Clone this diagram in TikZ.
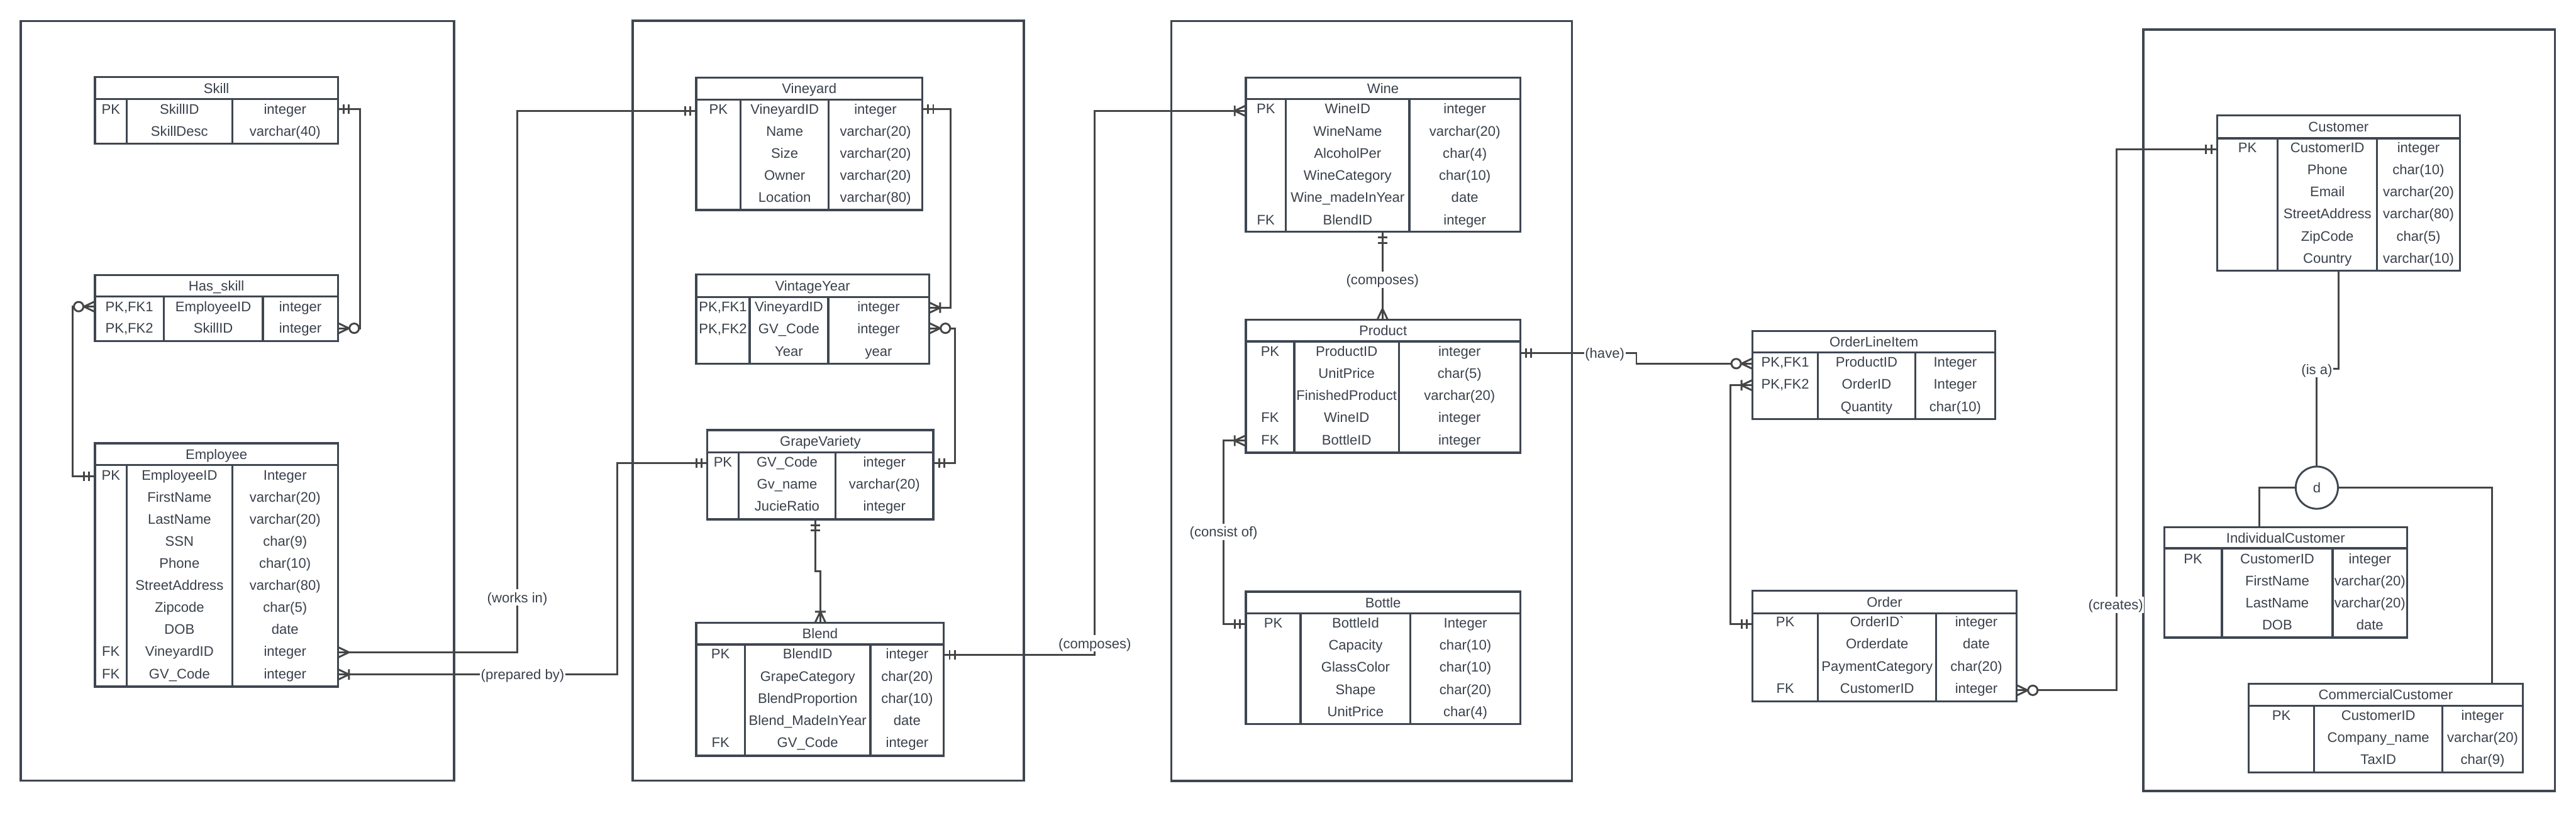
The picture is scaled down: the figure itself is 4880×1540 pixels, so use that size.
\documentclass[tikz,border=0pt]{standalone}
\usepackage{fontspec}
\setmainfont{Liberation Sans}
\definecolor{boxc}{HTML}{3E4651}
\definecolor{connc}{HTML}{454545}
\definecolor{txtc}{HTML}{3A414B}
\tikzset{
  tblbox/.style={draw=boxc, line width=4pt, fill=white, inner sep=0pt, outer sep=0pt},
  tblline/.style={draw=boxc, line width=4pt},
  txt/.style={text=txtc, font=\fontsize{26.3}{30}\selectfont, inner sep=0pt, text height=18.8pt, text depth=0pt},
  conn/.style={draw=connc, line width=3.5pt},
  lbl/.style={fill=white, text=txtc, font=\fontsize{26.3}{30}\selectfont, inner xsep=2pt, inner ysep=6pt, text height=18.8pt, text depth=0pt},
  frm/.style={draw=boxc, line width=4.5pt, inner sep=0pt, outer sep=0pt, anchor=north west},
  erOne/.pic={\draw[conn] (11,-9) -- (11,9) (21,-9) -- (21,9);},
  erMany/.pic={\draw[conn] (0,-10) -- (21,0) -- (0,10);},
  erOneMany/.pic={\draw[conn] (0,-10) -- (21,0) -- (0,10) (21,-10) -- (21,10);},
  erZeroMany/.pic={\draw[conn] (0,-10) -- (21,0) -- (0,10); \draw[conn, fill=white] (31,0) circle[radius=9];},
}
% #1 name, #2 title, #3 left, #4 col1, #5 col2, #6 right, #7 top, #8 header, #9 bottom
\newcommand\ertable[9]{%
  \node[tblbox, minimum width={(#6-#3)*1pt}, minimum height={(#9-#7)*1pt}, anchor=north west] (#1) at (#3,#7) {};
  \draw[tblline] (#3,#8) -- (#6,#8) (#4,#8) -- (#4,#9) (#5,#8) -- (#5,#9);
  \node[txt] (#1-title) at ({(#3+#6)/2},{(#7+#8)/2}) {#2};
}
% #1 name, #2 key x, #3 attr x, #4 type x, #5 first y, #6 spacing, #7 list
\newcommand\errows[7]{%
  \foreach \rowK/\rowA/\rowT [count=\ri from 0] in {#7}{%
    \node[txt] (#1-k\ri) at (#2,{#5+\ri*#6}) {\rowK};
    \node[txt] (#1-a\ri) at (#3,{#5+\ri*#6}) {\rowA};
    \node[txt] (#1-t\ri) at (#4,{#5+\ri*#6}) {\rowT};
  }%
}
\begin{document}
\begin{tikzpicture}[x=1pt, y=-1pt]
\useasboundingbox (0,0) rectangle (4880,1540);
\fill[white] (0,0) rectangle (4880,1540);

% frames
\node[frm, minimum width=821pt, minimum height=1439pt] (fr1) at (39,40) {};
\node[frm, minimum width=741pt, minimum height=1440pt] (fr2) at (1199,39) {};
\node[frm, minimum width=759pt, minimum height=1440pt] (fr3) at (2219,40) {};
\node[frm, minimum width=780pt, minimum height=1443pt] (fr4) at (4060,56) {};

% tables
\ertable{skill}{Skill}{180}{240}{440}{640}{146}{188}{272}
\errows{skill}{210}{340}{540}{207}{42}{PK/SkillID/integer, /SkillDesc/varchar(40)}

\ertable{hasskill}{Has\_skill}{180}{310}{498}{640}{521}{562}{646}
\errows{hasskill}{245}{404}{569}{581}{41}{{PK,FK1}/EmployeeID/integer, {PK,FK2}/SkillID/integer}

\ertable{emp}{Employee}{180}{240}{440}{640}{840}{881}{1301}
\errows{emp}{210}{340}{540}{900}{41.8}{PK/EmployeeID/Integer, /FirstName/varchar(20), /LastName/varchar(20), /SSN/char(9), /Phone/char(10), /StreetAddress/varchar(80), /Zipcode/char(5), /DOB/date, FK/VineyardID/integer, FK/GV\_Code/integer}

\ertable{vin}{Vineyard}{1319}{1403}{1570}{1747}{147}{189}{398}
\errows{vin}{1361}{1486.5}{1658.5}{207}{41.7}{PK/VineyardID/integer, /Name/varchar(20), /Size/varchar(20), /Owner/varchar(20), /Location/varchar(80)}

\ertable{vy}{VintageYear}{1319}{1420}{1569}{1760}{520}{563}{689}
\errows{vy}{1369.5}{1494.5}{1664.5}{581}{42}{{PK,FK1}/VineyardID/integer, {PK,FK2}/GV\_Code/integer, /Year/year}

\ertable{gv}{GrapeVariety}{1340}{1399}{1583}{1768}{815}{857}{984}
\errows{gv}{1369.5}{1491}{1675.5}{875}{42}{PK/GV\_Code/integer, /Gv\_name/varchar(20), /JucieRatio/integer}

\ertable{blend}{Blend}{1319}{1411}{1649}{1788}{1180}{1221}{1432}
\errows{blend}{1365}{1530}{1718.5}{1239}{42}{PK/BlendID/integer, /GrapeCategory/char(20), /BlendProportion/char(10), /Blend\_MadeInYear/date, FK/GV\_Code/integer}

\ertable{wine}{Wine}{2360}{2436}{2670}{2880}{147}{188}{439}
\errows{wine}{2398}{2553}{2775}{206}{42}{PK/WineID/integer, /WineName/varchar(20), /AlcoholPer/char(4), /WineCategory/char(10), /Wine\_madeInYear/date, FK/BlendID/integer}

\ertable{prod}{Product}{2360}{2452}{2650}{2880}{606}{647}{858}
\errows{prod}{2406}{2551}{2765}{665}{42}{PK/ProductID/integer, /UnitPrice/char(5), /FinishedProduct/varchar(20), FK/WineID/integer, FK/BottleID/integer}

\ertable{bottle}{Bottle}{2360}{2464}{2672}{2880}{1121}{1162}{1372}
\errows{bottle}{2412}{2568}{2776}{1180}{42}{PK/BottleId/Integer, /Capacity/char(10), /GlassColor/char(10), /Shape/char(20), /UnitPrice/char(4)}

\ertable{oli}{OrderLineItem}{3320}{3444}{3628}{3780}{627}{668}{794}
\errows{oli}{3382}{3536}{3704}{686}{42}{{PK,FK1}/ProductID/Integer, {PK,FK2}/OrderID/Integer, /Quantity/char(10)}

\ertable{order}{Order}{3320}{3444}{3668}{3820}{1119}{1162}{1329}
\errows{order}{3382}{3556}{3744}{1178}{42}{PK/OrderID\textasciigrave/integer, /Orderdate/date, /PaymentCategory/char(20), FK/CustomerID/integer}

\ertable{cust}{Customer}{4200}{4315}{4503}{4660}{219}{262}{513}
\errows{cust}{4257.5}{4409}{4581.5}{279}{42}{PK/CustomerID/integer, /Phone/char(10), /Email/varchar(20), /StreetAddress/varchar(80), /ZipCode/char(5), /Country/varchar(10)}

\ertable{indiv}{IndividualCustomer}{4100}{4209}{4419}{4560}{999}{1039}{1208}
\errows{indiv}{4154.5}{4314}{4489.5}{1059}{41.7}{PK/CustomerID/integer, /FirstName/varchar(20), /LastName/varchar(20), /DOB/date}

\ertable{comm}{CommercialCustomer}{4260}{4384}{4627}{4779}{1296}{1337}{1464}
\errows{comm}{4322}{4505.5}{4703}{1355}{42}{PK/CustomerID/integer, /Company\_name/varchar(20), /TaxID/char(9)}

% disjoint circle
\node[circle, draw=boxc, line width=3.5pt, fill=white, minimum size=80pt, inner sep=0pt, text=txtc, font=\fontsize{26.3}{30}\selectfont] (dnode) at (4389,924) {d};

% connectors
\draw[conn] (skill.east |- 0,207) -- (682,207) |- (hasskill.east |- 0,622);
\draw[conn] (hasskill.west |- 0,581) -- (138,581) |- (emp.west |- 0,903);
\draw[conn] (emp.east |- 0,1236) -- (980,1236) |- (vin.west |- 0,210);
\draw[conn] (emp.east |- 0,1278) -- (1169,1278) |- (gv.west |- 0,877);
\draw[conn] (vin.east |- 0,207) -- (1801,207) |- (vy.east |- 0,583);
\draw[conn] (vy.east |- 0,622) -- (1809,622) |- (gv.east |- 0,877);
\draw[conn] (gv.south -| 1545,0) -- (1545,1082) -- (1554,1082) -- (blend.north -| 1554,0);
\draw[conn] (blend.east |- 0,1241) -- (2074,1241) |- (wine.west |- 0,210);
\draw[conn] (wine.south -| 2619,0) -- (prod.north -| 2619,0);
\draw[conn] (prod.west |- 0,835) -- (2318,835) |- (bottle.west |- 0,1182);
\draw[conn] (prod.east |- 0,669) -- (3100,669) -- (3100,689) -- (oli.west |- 0,689);
\draw[conn] (oli.west |- 0,730) -- (3278,730) |- (order.west |- 0,1182);
\draw[conn] (order.east |- 0,1308) -- (4010,1308) |- (cust.west |- 0,283);
\draw[conn] (cust.south -| 4430,0) |- (4389,699) -- (dnode.north);
\draw[conn] (dnode.west) -| (indiv.north -| 4280,0);
\draw[conn] (dnode.east) -| (comm.north -| 4721,0);

% cardinality marks
\pic[rotate=0] at (skill.east |- 0,207) {erOne};
\pic[rotate=0] at (hasskill.east |- 0,622) {erZeroMany};
\pic[rotate=180] at (hasskill.west |- 0,581) {erZeroMany};
\pic[rotate=180] at (emp.west |- 0,903) {erOne};
\pic[rotate=0] at (emp.east |- 0,1236) {erMany};
\pic[rotate=180] at (vin.west |- 0,210) {erOne};
\pic[rotate=0] at (emp.east |- 0,1278) {erOneMany};
\pic[rotate=180] at (gv.west |- 0,877) {erOne};
\pic[rotate=0] at (vin.east |- 0,207) {erOne};
\pic[rotate=0] at (vy.east |- 0,583) {erOneMany};
\pic[rotate=0] at (vy.east |- 0,622) {erZeroMany};
\pic[rotate=0] at (gv.east |- 0,877) {erOne};
\pic[rotate=-90] at (gv.south -| 1545,0) {erOne};
\pic[rotate=90] at (blend.north -| 1554,0) {erOneMany};
\pic[rotate=0] at (blend.east |- 0,1241) {erOne};
\pic[rotate=180] at (wine.west |- 0,210) {erOneMany};
\pic[rotate=-90] at (wine.south -| 2619,0) {erOne};
\pic[rotate=90] at (prod.north -| 2619,0) {erMany};
\pic[rotate=180] at (prod.west |- 0,835) {erOneMany};
\pic[rotate=180] at (bottle.west |- 0,1182) {erOne};
\pic[rotate=0] at (prod.east |- 0,669) {erOne};
\pic[rotate=180] at (oli.west |- 0,689) {erZeroMany};
\pic[rotate=180] at (oli.west |- 0,730) {erOneMany};
\pic[rotate=180] at (order.west |- 0,1182) {erOne};
\pic[rotate=0] at (order.east |- 0,1308) {erZeroMany};
\pic[rotate=180] at (cust.west |- 0,283) {erOne};

% labels
\node[lbl] (lworks) at (980,1132) {(works in)};
\node[lbl] (lprep) at (990,1278) {(prepared by)};
\node[lbl] (lcomp1) at (2074,1219) {(composes)};
\node[lbl] (lcomp2) at (2619,530) {(composes)};
\node[lbl] (lcons) at (2318,1008) {(consist of)};
\node[lbl] (lhave) at (3040,669) {(have)};
\node[lbl] (lcreates) at (4008,1146) {(creates)};
\node[lbl] (lisa) at (4389,700) {(is a)};
\end{tikzpicture}
\end{document}
